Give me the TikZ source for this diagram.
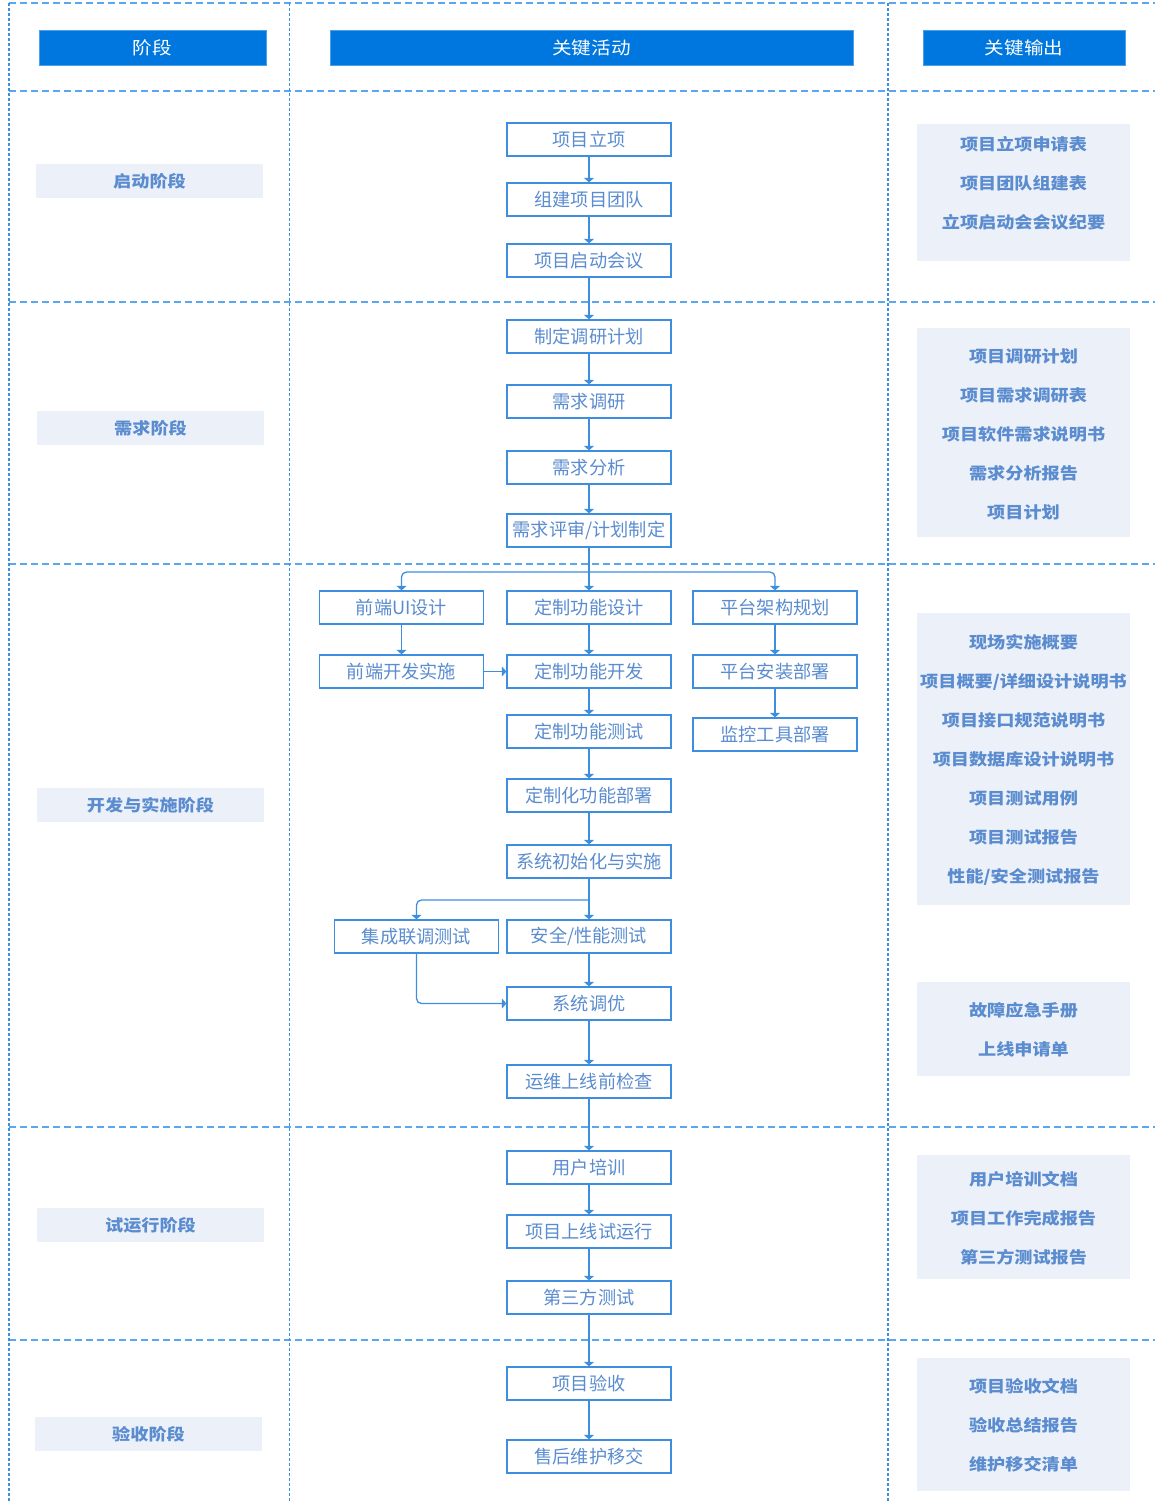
\documentclass[tikz,border=0pt]{standalone}
\usepackage{fontspec}
\setmainfont{Noto Sans CJK SC}
\newfontfamily\widefont[FakeStretch=1.12]{Noto Sans CJK SC}
\usetikzlibrary{arrows.meta,positioning}
\definecolor{hdblue}{HTML}{0077DE}
\definecolor{lnblue}{HTML}{3E8EE0}
\definecolor{sepblue}{HTML}{5AA6F0}
\definecolor{txblue}{HTML}{5A8CCF}
\definecolor{pale}{HTML}{EBF0F9}
\begin{document}
\begin{tikzpicture}[x=1pt, y=-1pt,
		hd/.style={fill=hdblue, draw=hdblue!70, text=white, minimum height=35pt, inner sep=0pt, font=\widefont\fontsize{17.5}{20}\selectfont},
		phase/.style={fill=pale, text=txblue, minimum width=227pt, minimum height=34pt, inner sep=0pt, font=\widefont\bfseries\fontsize{16.2}{19}\selectfont},
		act/.style={draw=lnblue, line width=1.3pt, fill=white, text=txblue, minimum width=164pt, minimum height=33pt, inner sep=0pt, font=\fontsize{18.2}{20}\selectfont},
		outbox/.style={fill=pale, minimum width=213pt, inner sep=0pt},
		outtext/.style={text=txblue, align=center, inner sep=0pt, font=\widefont\bfseries\fontsize{16.2}{39}\selectfont},
		flow/.style={draw=lnblue, line width=1.3pt, rounded corners=5pt, -{Triangle[width=10pt,length=4.5pt]}},
		hsep/.style={draw=sepblue, line width=1.2pt, dash pattern=on 7pt off 4pt},
		vsep/.style={draw=lnblue, line width=1.6pt, dash pattern=on 3pt off 2pt}]

		\useasboundingbox (0,0) rectangle (1155,1501);

		% grid of the table
		\foreach \y in {3,91,302,564,1127,1340}
			\draw[hsep] (9,\y) -- (1155,\y);
		\foreach \x in {9,289.5,888}
			\draw[vsep] (\x,3) -- (\x,1501);

		% headers
		\node[hd, minimum width=227pt] (h1) at (152.5,47.5) {阶段};
		\node[hd, minimum width=523pt] (h2) at (591.5,47.5) {关键活动};
		\node[hd, minimum width=202pt] (h3) at (1024,47.5) {关键输出};

		% phases
		\node[phase] (p1) at (149.5,181) {启动阶段};
		\node[phase] (p2) at (150.5,428) {需求阶段};
		\node[phase] (p3) at (150.5,805) {开发与实施阶段};
		\node[phase] (p4) at (150.5,1225) {试运行阶段};
		\node[phase] (p5) at (148.5,1434) {验收阶段};

		% activities
		\node[act] (start1) at (589,139.5) {项目立项};
		\node[act] (start2) at (589,199.5) {组建项目团队};
		\node[act] (start3) at (589,260.5) {项目启动会议};
		\node[act] (req1) at (589,336.5) {制定调研计划};
		\node[act] (req2) at (589,401.5) {需求调研};
		\node[act] (req3) at (589,467.5) {需求分析};
		\node[act] (req4) at (589,530.5) {需求评审/计划制定};
		\node[act] (ui1) at (401.5,607.5) {前端UI设计};
		\node[act] (ui2) at (401.5,671.5) {前端开发实施};
		\node[act] (fn1) at (589,607.5) {定制功能设计};
		\node[act] (fn2) at (589,671.5) {定制功能开发};
		\node[act] (fn3) at (589,731.5) {定制功能测试};
		\node[act] (fn4) at (589,795.5) {定制化功能部署};
		\node[act] (pf1) at (775,607.5) {平台架构规划};
		\node[act] (pf2) at (775,671.5) {平台安装部署};
		\node[act] (pf3) at (775,734.5) {监控工具部署};
		\node[act] (init) at (589,861.5) {系统初始化与实施};
		\node[act] (intg) at (416.5,936.5) {集成联调测试};
		\node[act] (sec) at (589,936.5) {安全/性能测试};
		\node[act] (tune) at (589,1003.5) {系统调优};
		\node[act] (ops) at (589,1081.5) {运维上线前检查};
		\node[act] (trn) at (589,1167.5) {用户培训};
		\node[act] (trial) at (589,1231.5) {项目上线试运行};
		\node[act] (third) at (589,1297.5) {第三方测试};
		\node[act] (acc) at (589,1383.5) {项目验收};
		\node[act] (hand) at (589,1456.5) {售后维护移交};

		\coordinate (split1) at (589,572);
		\coordinate (split2) at (589,900);

		\draw[flow] (start1) -- (start2);
		\draw[flow] (start2) -- (start3);
		\draw[flow] (start3) -- (req1);
		\draw[flow] (req1) -- (req2);
		\draw[flow] (req2) -- (req3);
		\draw[flow] (req3) -- (req4);
		\draw[flow] (req4) -- (fn1);
		\draw[flow] (split1) -| (ui1);
		\draw[flow] (split1) -| (pf1);
		\draw[flow] (ui1) -- (ui2);
		\draw[flow] (ui2) -- (fn2);
		\draw[flow] (fn1) -- (fn2);
		\draw[flow] (fn2) -- (fn3);
		\draw[flow] (fn3) -- (fn4);
		\draw[flow] (fn4) -- (init);
		\draw[flow] (pf1) -- (pf2);
		\draw[flow] (pf2) -- (pf3);
		\draw[flow] (init) -- (sec);
		\draw[flow] (split2) -| (intg);
		\draw[flow] (sec) -- (tune);
		\draw[flow] (intg) |- (tune);
		\draw[flow] (tune) -- (ops);
		\draw[flow] (ops) -- (trn);
		\draw[flow] (trn) -- (trial);
		\draw[flow] (trial) -- (third);
		\draw[flow] (third) -- (acc);
		\draw[flow] (acc) -- (hand);

		% outputs
		\node[outbox, minimum height=137pt] (out1) at (1023.5,192.5) {};
		\node[outtext] (txt1) at (1023.5,183) {项目立项申请表\\项目团队组建表\\立项启动会会议纪要};
		\node[outbox, minimum height=209pt] (out2) at (1023.5,432.5) {};
		\node[outtext] (txt2) at (1023.5,434) {项目调研计划\\项目需求调研表\\项目软件需求说明书\\需求分析报告\\项目计划};
		\node[outbox, minimum height=292pt] (out3) at (1023.5,759) {};
		\node[outtext] (txt3) at (1023.5,760) {现场实施概要\\项目概要/详细设计说明书\\项目接口规范说明书\\项目数据库设计说明书\\项目测试用例\\项目测试报告\\性能/安全测试报告};
		\node[outbox, minimum height=94pt] (out4) at (1023.5,1029) {};
		\node[outtext] (txt4) at (1023.5,1029.5) {故障应急手册\\上线申请单};
		\node[outbox, minimum height=124pt] (out5) at (1023.5,1217) {};
		\node[outtext] (txt5) at (1023.5,1218) {用户培训文档\\项目工作完成报告\\第三方测试报告};
		\node[outbox, minimum height=133pt] (out6) at (1023.5,1424.5) {};
		\node[outtext] (txt6) at (1023.5,1425) {项目验收文档\\验收总结报告\\维护移交清单};
	\end{tikzpicture}
\end{document}
